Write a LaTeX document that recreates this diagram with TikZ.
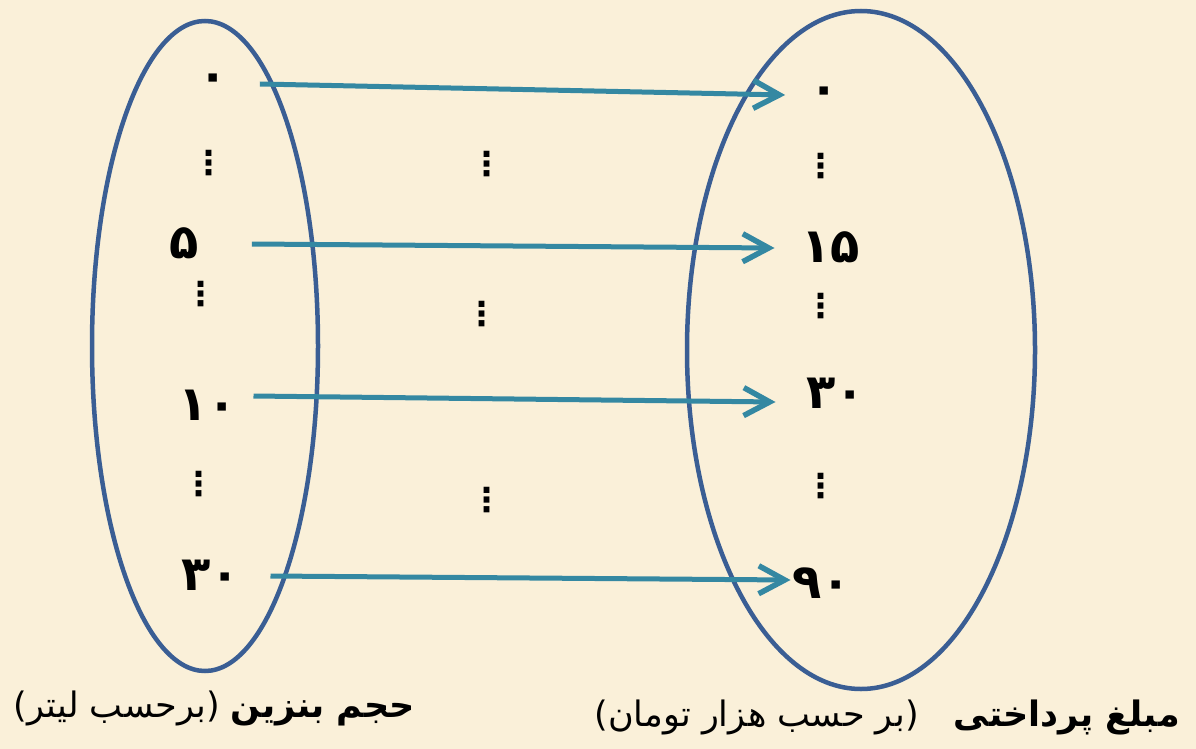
\documentclass[tikz,border=0pt]{standalone}
\usepackage{fontspec}
\usetikzlibrary{arrows.meta}
\TeXXeTstate=1
\newfontfamily\arabicfont[Script=Arabic]{DejaVu Sans}
\def\leftset{(205,346) ellipse (113 and 325)}
\def\rightset{(861,350) ellipse (174 and 339)}
\definecolor{paper}{RGB}{250,240,217}
\definecolor{set edge}{RGB}{58,94,148}
\definecolor{map line}{RGB}{52,136,162}
\tikzset{setline/.style={draw=set edge, line width=4.5pt},
    num/.style={inner sep=0pt, anchor=base, text height=30pt, text depth=0pt,
        font=\arabicfont\bfseries\fontsize{48}{48}\selectfont},
    dotsnode/.style={inner sep=0pt, font=\arabicfont\bfseries\fontsize{33}{33}\selectfont},
    mapsto/.style={draw=map line, line width=5pt,
        -{Straight Barb[length=26pt, width=28pt, line width=5.5pt]}},
    caption/.style={inner sep=0pt, font=\arabicfont\fontsize{35}{35}\selectfont}}

\begin{document}
\begin{tikzpicture}[x=1pt, y=-1pt]
        % Page
        \fill[paper] (0,0) rectangle (1196,749);
        \useasboundingbox (0,0) rectangle (1196,749);

        % Domain and range
        \draw[setline] \leftset;
        \draw[setline] \rightset;

        % Litres
        \node[num] (l0) at (213,92) {۰};
        \node[num] (l5) at (184,258) {۵};
        \node[num] (l10) at (208,420) {۱۰};
        \node[num] (l30) at (211,590) {۳۰};
        \node[dotsnode] (ld1) at (209,163) {⋮};
        \node[dotsnode] (ld2) at (201,294) {⋮};
        \node[dotsnode] (ld3) at (199,484) {⋮};

        % Price
        \node[num] (r0) at (824,105) {۰};
        \node[num] (r15) at (831,262) {۱۵};
        \node[num] (r30) at (836,408) {۳۰};
        \node[num] (r90) at (822,598) {۹۰};
        \node[dotsnode] (rd1) at (821,166) {⋮};
        \node[dotsnode] (rd2) at (821,306) {⋮};
        \node[dotsnode] (rd3) at (821,486) {⋮};

        % Between the sets
        \node[dotsnode] (md1) at (487,164) {⋮};
        \node[dotsnode] (md2) at (482,314) {⋮};
        \node[dotsnode] (md3) at (487,500) {⋮};

        % Arrows
        \draw[mapsto] ([xshift=32pt,yshift=-7pt]l0.east) -- ([xshift=-24pt,yshift=-5pt]r0.west);
        \draw[mapsto] ([xshift=53pt,yshift=-1pt]l5.east) -- ([xshift=-27pt,yshift=-1pt]r15.west);
        \draw[mapsto] ([xshift=16pt,yshift=9pt]l10.east) -- ([xshift=-31pt,yshift=-9pt]r30.west);
        \draw[mapsto] ([xshift=30pt,yshift=-1pt]l30.east) -- ([xshift=-2pt,yshift=3pt]r90.west);

        % Captions
        \node[caption, anchor=east] (cl) at (415,708) {\beginR{\bfseries حجم بنزین} (برحسب لیتر)\endR};
        \node[caption, anchor=east] (cr) at (1180,717) {\beginR{\bfseries مبلغ پرداختی}\quad(بر حسب هزار تومان)\endR};
\end{tikzpicture}
\end{document}
